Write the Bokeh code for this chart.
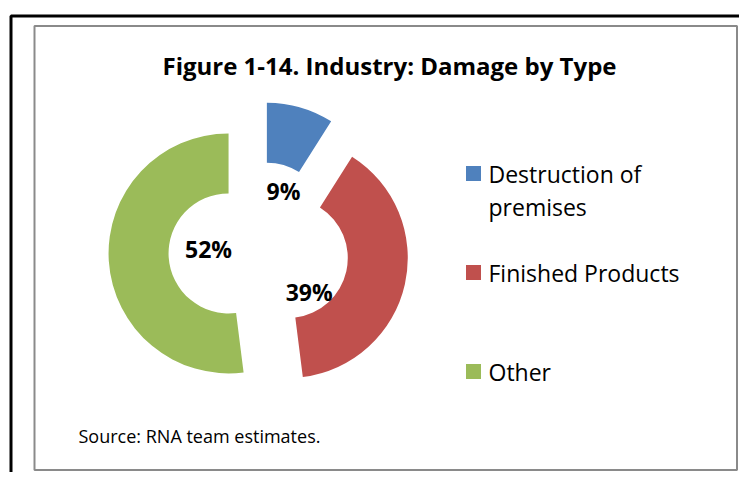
import math
from bokeh.plotting import figure
from bokeh.models import Range1d
from bokeh.core.properties import value
from bokeh.embed import file_html
from bokeh.resources import INLINE

# ---- data ----
title_text = "Figure 1-14. Industry: Damage by Type"
source_text = "Source: RNA team estimates."
categories = ["Destruction of premises", "Finished Products", "Other"]
legend_lines = [["Destruction of", "premises"], ["Finished Products"], ["Other"]]
values = [9, 39, 52]
colors = ["#4F81BD", "#C0504D", "#9BBB59"]

# ---- layout (window pixel space, y negated) ----
FONT = "Open Sans"
CX, CY = 258, -251
R_OUT, R_IN, EXPLODE = 120, 60, 30
# label placement: (clockwise degrees from north, distance from centre)
label_polar = [(22.6, 65), (128.8, 65), (272.6, 50)]
LABEL_SIZE = 23
LEG_SQ_X = 473
LEG_TEXT_X = 488
leg_rows = [173, 272, 371]
LINE_GAP = 33
LEG_SIZE = 23

p = figure(width=739, height=472, output_backend="svg", toolbar_location=None,
           x_range=Range1d(0, 739), y_range=Range1d(-472, 0),
           x_axis_location=None, y_axis_location=None, min_border=0)
p.grid.visible = False
p.outline_line_color = None
p.background_fill_color = "white"
p.border_fill_color = "white"

# borders
p.line([10.5, 10.5, 760], [-490, -15.5, -15.5], line_color="black", line_width=3)
p.quad(left=[34], right=[736.5], top=[-25.5], bottom=[-469.5],
       fill_color=None, line_color="#8a8a8a", line_width=2)

# donut
total = float(sum(values))
cum = 0.0
for v, c in zip(values, colors):
    a0, a1 = cum / total, (cum + v) / total
    cum += v
    sa = math.pi / 2 - 2 * math.pi * a0
    ea = math.pi / 2 - 2 * math.pi * a1
    mid = (sa + ea) / 2
    p.annular_wedge(x=[CX + EXPLODE * math.cos(mid)], y=[CY + EXPLODE * math.sin(mid)],
                    inner_radius=R_IN, outer_radius=R_OUT,
                    start_angle=sa, end_angle=ea, direction="clock",
                    fill_color=c, line_color=None)

# percentage labels
lx, ly, lt = [], [], []
for v, (phi, rho) in zip(values, label_polar):
    t = math.radians(phi)
    lx.append(CX + rho * math.sin(t))
    ly.append(CY + rho * math.cos(t))
    lt.append(f"{round(100 * v / total)}%")
p.text(x=lx, y=ly, text=lt, text_font=value(FONT), text_font_size=f"{LABEL_SIZE}px",
       text_font_style="bold", text_color="black", text_align="center",
       text_baseline="middle")

# title
p.text(x=[389], y=[-65], text=[title_text], text_font=value(FONT), text_font_size="24px",
       text_font_style="bold", text_color="black", text_align="center",
       text_baseline="middle")

# legend
for lines, c, yrow in zip(legend_lines, colors, leg_rows):
    p.rect(x=[LEG_SQ_X], y=[-yrow], width=15, height=15, fill_color=c, line_color=None)
    p.text(x=[LEG_TEXT_X] * len(lines),
           y=[-(yrow + i * LINE_GAP) for i in range(len(lines))],
           text=lines, text_font=value(FONT), text_font_size=f"{LEG_SIZE}px",
           text_color="black", text_align="left", text_baseline="middle")

# source note
p.text(x=[78], y=[-435], text=[source_text], text_font=value(FONT), text_font_size="18px",
       text_color="black", text_align="left", text_baseline="middle")

open("out.html", "w").write(file_html(p, INLINE))
